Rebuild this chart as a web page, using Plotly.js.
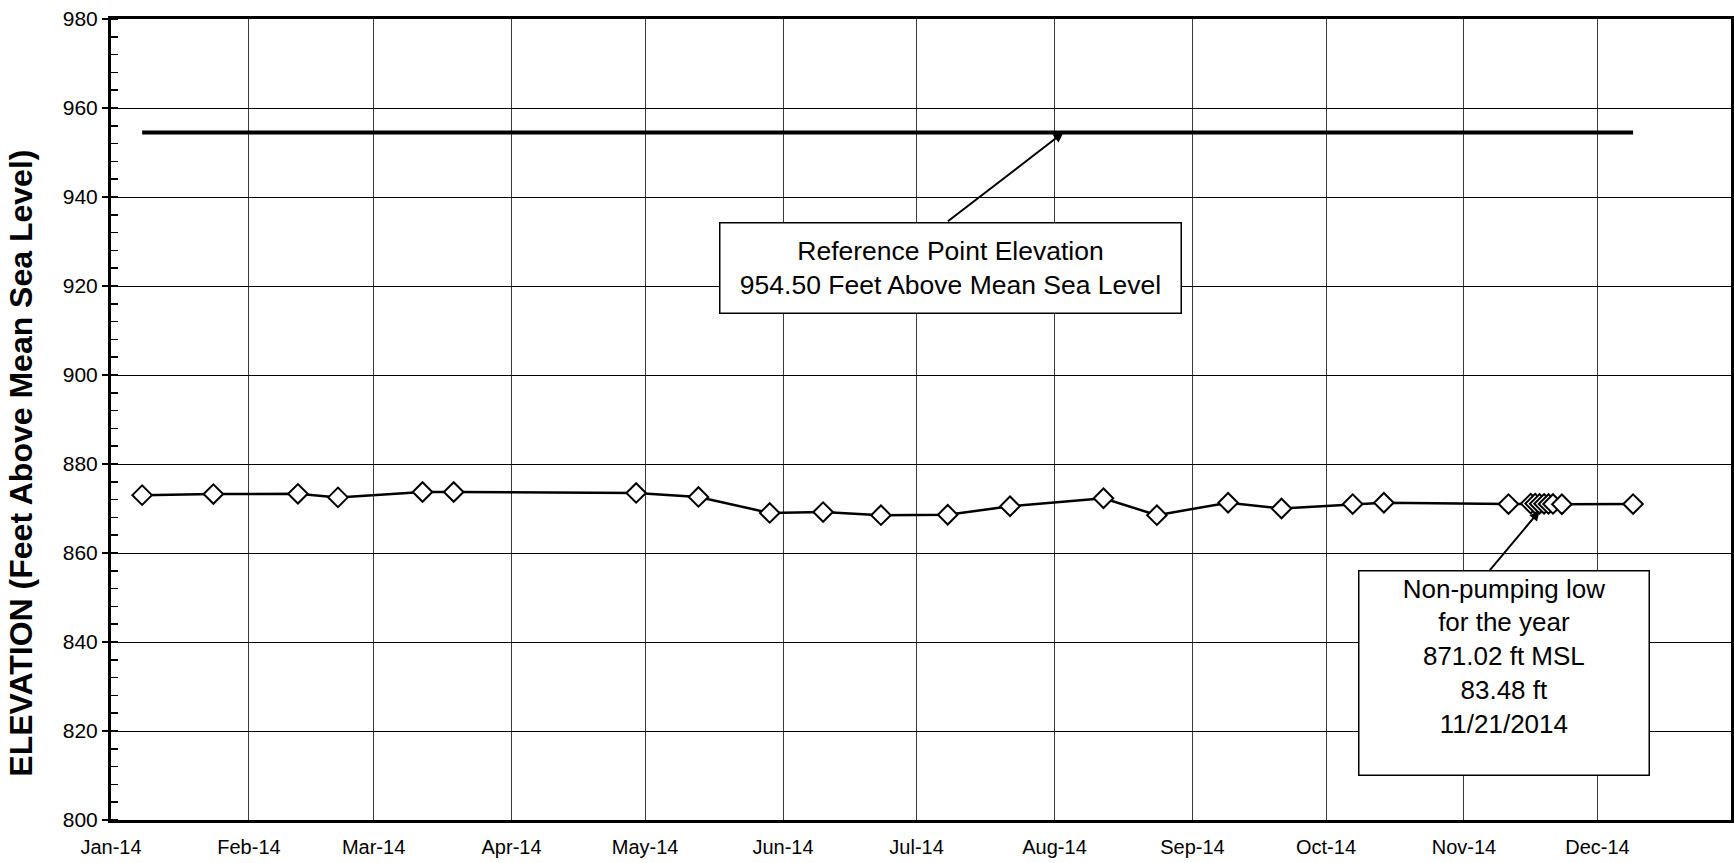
<!DOCTYPE html>
<html>
<head>
<meta charset="utf-8">
<script src="https://cdn.plot.ly/plotly-3.0.1.min.js"></script>
<style>
html,body{margin:0;padding:0;background:#fff;}
#chart{width:1734px;height:863px;}
</style>
</head>
<body>
<div id="chart"></div>
<script>
// Water level measurements (date, elevation ft MSL)
const dates = ['2014-01-08','2014-01-24','2014-02-12','2014-02-21','2014-03-12','2014-03-19',
  '2014-04-29','2014-05-13','2014-05-29','2014-06-10','2014-06-23','2014-07-08','2014-07-22',
  '2014-08-12','2014-08-24','2014-09-09','2014-09-21','2014-10-07','2014-10-14','2014-11-11',
  '2014-11-16','2014-11-17','2014-11-18','2014-11-19','2014-11-20','2014-11-21','2014-11-23',
  '2014-12-09'];
const elevations = [873.0,873.25,873.3,872.5,873.7,873.7,
  873.5,872.6,869.0,869.2,868.5,868.6,870.5,
  872.3,868.5,871.3,870.0,871.0,871.3,871.0,
  871.1,871.1,871.05,871.05,871.03,871.02,870.95,
  871.0];

// Reference point elevation line
const refDates = ['2014-01-08','2014-12-09'];
const refElev = [954.5, 954.5];

// Axis settings
const yTicks = [800,820,840,860,880,900,920,940,960,980];
const xRange = ['2014-01-01','2014-12-31'];

const FONT = 'Liberation Sans, Arial, sans-serif';

const traces = [
  {
    x: refDates, y: refElev, type: 'scatter', mode: 'lines',
    line: {color: '#000', width: 4}, hoverinfo: 'skip', showlegend: false
  },
  {
    x: dates, y: elevations, type: 'scatter', mode: 'lines+markers',
    line: {color: '#000', width: 2.5},
    marker: {symbol: 'diamond', size: 15, color: '#fff', line: {color: '#000', width: 2}},
    showlegend: false
  }
];

const layout = {
  width: 1734, height: 863,
  margin: {l: 111, r: 3, t: 19, b: 43},
  paper_bgcolor: '#fff', plot_bgcolor: '#fff',
  font: {family: FONT, color: '#000', size: 21},
  showlegend: false,
  xaxis: {
    type: 'date', range: xRange,
    tick0: '2014-01-01', dtick: 'M1', tickformat: '%b-%y',
    ticks: '', ticklabelstandoff: 7,
    showgrid: true, gridcolor: '#3a3a3a', gridwidth: 1,
    showline: true, linecolor: '#000', linewidth: 3, mirror: true,
    zeroline: false, tickfont: {family: FONT, size: 20, color: '#000'}
  },
  yaxis: {
    range: [800, 980], tickvals: yTicks,
    ticks: 'outside', ticklen: 6, tickwidth: 1.5, tickcolor: '#000',
    minor: {dtick: 4, ticks: 'inside', ticklen: 7, tickwidth: 1.5, tickcolor: '#000', showgrid: false},
    showgrid: true, gridcolor: '#000', gridwidth: 1,
    showline: true, linecolor: '#000', linewidth: 3, mirror: true,
    zeroline: false, tickfont: {family: FONT, size: 21, color: '#000'}
  },
  annotations: [
    {
      xref: 'paper', yref: 'paper', x: -0.0556, y: 0.446, xanchor: 'center', yanchor: 'middle',
      text: '<b>ELEVATION (Feet Above Mean Sea Level)</b>', textangle: -90, showarrow: false,
      font: {family: FONT, size: 32, color: '#000'}
    },
    {
      xref: 'x', yref: 'y', x: '2014-08-03', y: 954.5,
      text: '', showarrow: true, arrowhead: 2, arrowsize: 1, arrowwidth: 2, arrowcolor: '#000',
      ax: -117, ay: 90
    },
    {
      xref: 'paper', yref: 'paper', x: 0.5185, y: 0.689, xanchor: 'center', yanchor: 'middle',
      text: 'Reference Point Elevation<br>954.50 Feet Above Mean Sea Level',
      showarrow: false, align: 'center',
      font: {family: FONT, size: 26.5, color: '#000'},
      bgcolor: '#fff', bordercolor: '#000', borderwidth: 1.5, borderpad: 2,
      width: 456, height: 85
    },
    {
      xref: 'x', yref: 'y', x: '2014-11-18', y: 869.5,
      text: '', showarrow: true, arrowhead: 2, arrowsize: 1, arrowwidth: 2, arrowcolor: '#000',
      ax: -51, ay: 61
    },
    {
      xref: 'paper', yref: 'paper', x: 0.8596, y: 0.183, xanchor: 'center', yanchor: 'middle',
      text: 'Non-pumping low<br>for the year<br>871.02 ft MSL<br>83.48 ft<br>11/21/2014',
      showarrow: false, align: 'center', valign: 'top',
      font: {family: FONT, size: 26, color: '#000'},
      bgcolor: '#fff', bordercolor: '#000', borderwidth: 1.5, borderpad: 2,
      width: 285, height: 199
    }
  ]
};

Plotly.newPlot('chart', traces, layout, {displayModeBar: false, staticPlot: true});
</script>
</body>
</html>
